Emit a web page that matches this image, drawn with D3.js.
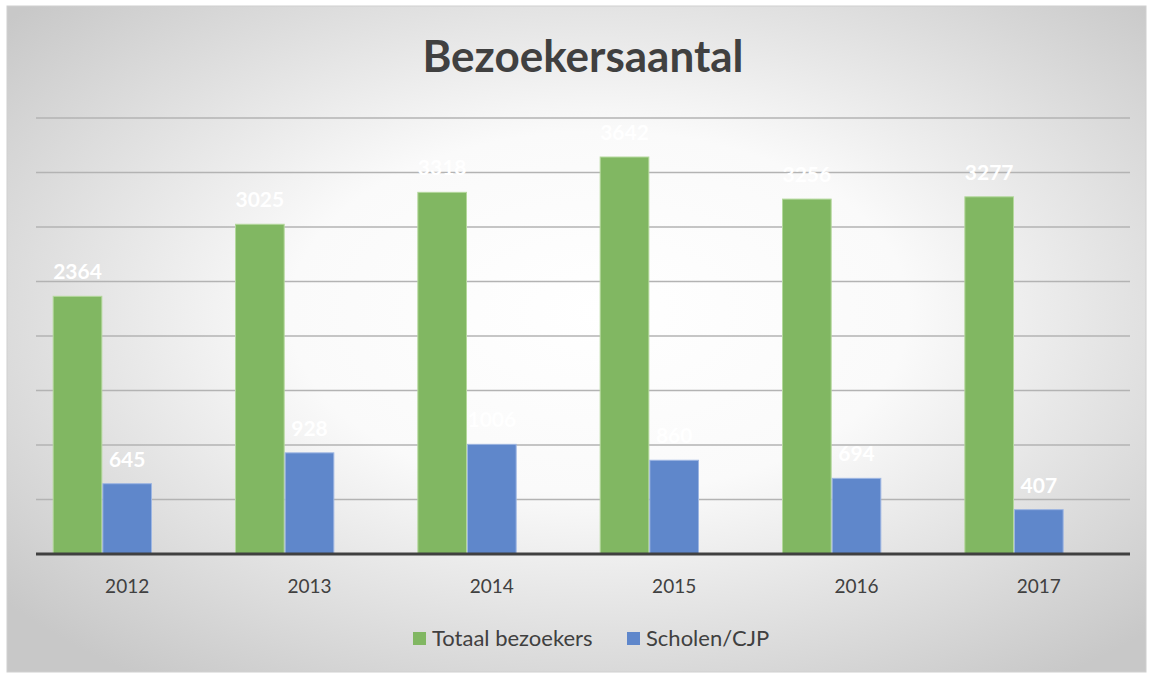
<!doctype HTML>
<html>
<head>
    <style>
        body { margin: 0; background: #fff; }
        text { font-family: Lato, "Open Sans", sans-serif; }
    </style>
    <script src="https://d3js.org/d3.v7.min.js"></script>
</head>
<body>
<div id="chart"></div>
<script>

    // data (2014 / 2015 labels are hidden, values estimated)
    var years = ["2012", "2013", "2014", "2015", "2016", "2017"];
    var seriesNames = ["Totaal bezoekers", "Scholen/CJP"];
    var totaal = [2364, 3025, 3318, 3642, 3256, 3277];
    var scholen = [645, 928, 1006, 860, 694, 407];
    var yTicks = [0, 500, 1000, 1500, 2000, 2500, 3000, 3500, 4000];
    var colors = ["#81b762", "#5f87cb"];
    var strokes = ["#b4d89c", "#9db6e2"];

    var canvasWidth = 1152;
    var canvasHeight = 677;

    var svg = d3.select("#chart").append("svg")
        .attr("width", canvasWidth)
        .attr("height", canvasHeight);

    // background gradient like the office chart style
    var defs = svg.append("defs");
    var grad = defs.append("radialGradient")
        .attr("id", "bg")
        .attr("cx", "52%").attr("cy", "46%").attr("r", "68%");
    grad.append("stop").attr("offset", "0%").attr("stop-color", "#ffffff");
    grad.append("stop").attr("offset", "40%").attr("stop-color", "#fafafa");
    grad.append("stop").attr("offset", "100%").attr("stop-color", "#c8c8c8");

    svg.append("rect")
        .attr("x", 7).attr("y", 6)
        .attr("width", 1139).attr("height", 666)
        .attr("fill", "url(#bg)")
        .attr("stroke", "#d0d0d0");

    // title
    svg.append("text")
        .attr("x", 583)
        .attr("y", 72)
        .attr("text-anchor", "middle")
        .attr("font-size", "44px")
        .attr("font-weight", "bold")
        .attr("fill", "#404040")
        .text("Bezoekersaantal");

    var plotLeft = 36, plotRight = 1130, plotTop = 118, plotBottom = 554;

    var x = d3.scaleBand()
        .domain(years)
        .range([plotLeft, plotRight])
        .paddingInner(0.183)
        .paddingOuter(0.0915);

    // three slots per group: excel leaves room for an empty third series
    var xSub = d3.scaleBand()
        .domain([0, 1, 2])
        .range([0, x.bandwidth()]);

    var y = d3.scaleLinear()
        .domain([0, 4000])
        .range([plotBottom, plotTop]);

    // gridlines
    svg.append("g")
        .selectAll("line")
        .data(yTicks.slice(1))
        .join("line")
        .attr("x1", plotLeft).attr("x2", plotRight)
        .attr("y1", d => y(d)).attr("y2", d => y(d))
        .attr("stroke", "#b3b3b3")
        .attr("stroke-width", 1.5);

    var rows = [];
    years.forEach((yr, i) => {
        rows.push({year: yr, s: 0, v: totaal[i]});
        rows.push({year: yr, s: 1, v: scholen[i]});
    });

    svg.append("g")
        .selectAll("rect")
        .data(rows)
        .join("rect")
        .attr("x", d => x(d.year) + xSub(d.s) + 0.5)
        .attr("y", d => y(d.v))
        .attr("width", xSub.bandwidth() - 1)
        .attr("height", d => y(0) - y(d.v))
        .attr("fill", d => colors[d.s])
        .attr("stroke", d => strokes[d.s])
        .attr("stroke-width", 1);

    // value labels (white)
    svg.append("g")
        .selectAll("text")
        .data(rows)
        .join("text")
        .attr("x", d => x(d.year) + xSub(d.s) + xSub.bandwidth() / 2)
        .attr("y", d => y(d.v) - 17)
        .attr("text-anchor", "middle")
        .attr("font-size", "21px")
        .attr("font-weight", "bold")
        .attr("fill", "#ffffff")
        .text(d => d.v);

    // baseline
    svg.append("line")
        .attr("x1", plotLeft).attr("x2", plotRight)
        .attr("y1", y(0)).attr("y2", y(0))
        .attr("stroke", "#404040")
        .attr("stroke-width", 3);

    // category axis labels
    var xAxis = svg.append("g")
        .attr("transform", "translate(0," + (y(0) + 1) + ")")
        .call(d3.axisBottom(x).tickSize(0).tickPadding(25));
    xAxis.select(".domain").remove();
    xAxis.selectAll("text")
        .attr("font-size", "19px")
        .attr("fill", "#404040")
        .style("font-family", "Lato, 'Open Sans', sans-serif");

    // legend
    var legendX = [413, 627];
    var legend = svg.append("g")
        .selectAll("g")
        .data(seriesNames)
        .join("g")
        .attr("transform", (d, i) => "translate(" + legendX[i] + ",638)");
    legend.append("rect")
        .attr("x", 0).attr("y", -6)
        .attr("width", 13).attr("height", 13)
        .attr("fill", (d, i) => colors[i]);
    legend.append("text")
        .attr("x", 19).attr("y", 8)
        .attr("font-size", "22px")
        .attr("fill", "#404040")
        .text(d => d);

</script>
</body>
</html>
